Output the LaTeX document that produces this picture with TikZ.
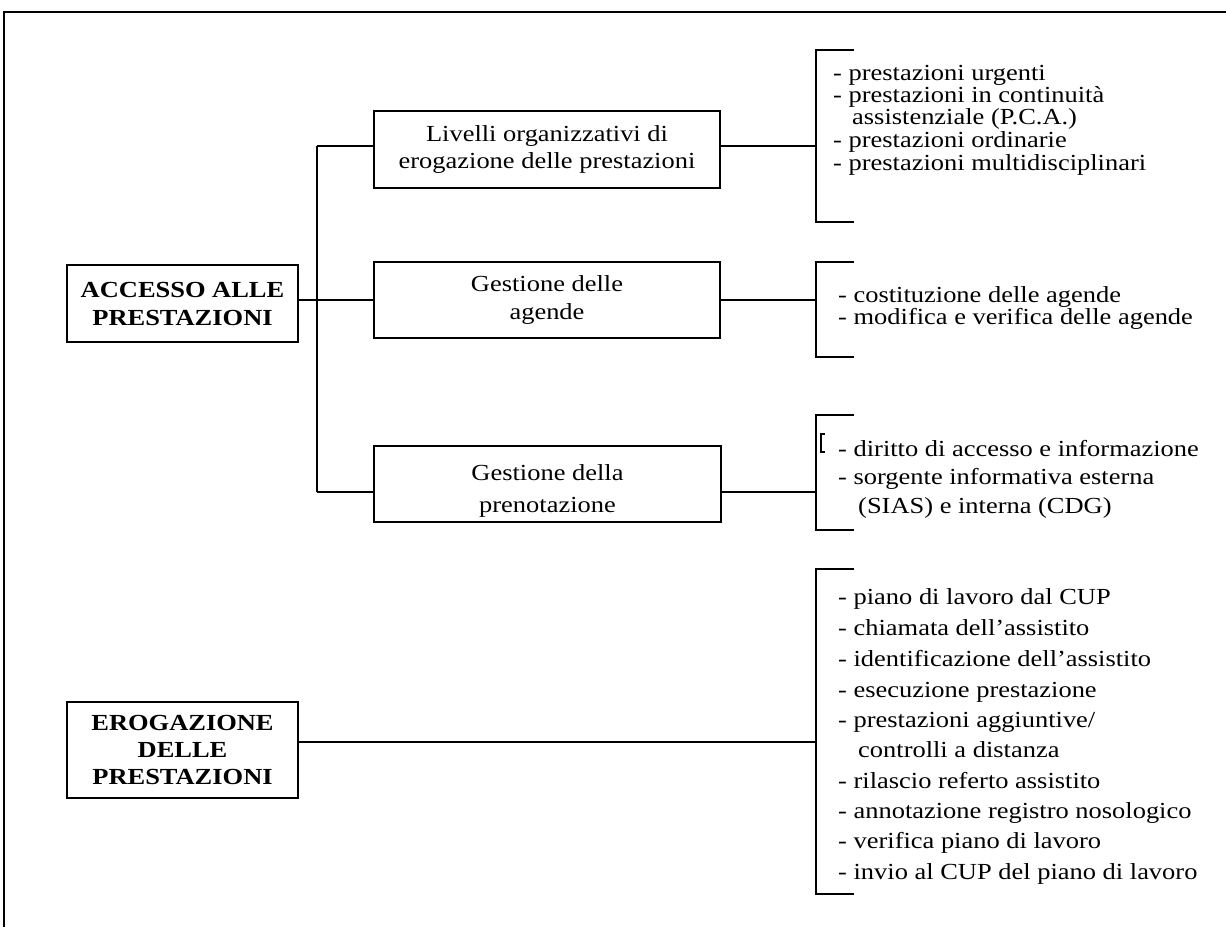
\documentclass[tikz,border=0pt]{standalone}
\usepackage{fontspec}
\setmainfont{Liberation Serif}
\usepackage{graphicx}
\newcommand{\sx}[1]{\scalebox{1.15}[1]{#1}}
\tikzset{
  ln/.style={line width=1.6pt},
  box/.style={draw, line width=1.6pt, inner sep=0pt, align=center, font=\fontsize{23}{28}\selectfont},
  head/.style={box, font=\fontsize{23}{28}\selectfont\bfseries},
  txt/.style={inner sep=0pt, align=center, font=\fontsize{23}{32}\selectfont},
  item/.style={anchor=base west, inner sep=0pt, font=\fontsize{23}{28}\selectfont},
}
\begin{document}
\begin{tikzpicture}[x=1pt,y=-1pt]
\useasboundingbox (0,0) rectangle (1226,927);
% frame
\coordinate (fBL) at (4,927);
\coordinate (fTL) at (4,12);
\coordinate (fTR) at (1226,12);
\draw[ln] (fBL) -- (fTL) -- (fTR);

% boxes
\node[head, minimum width=231pt, minimum height=77pt] (acc) at (182.5,303.5) {\sx{ACCESSO ALLE}\\\sx{PRESTAZIONI}};
\node[head, minimum width=231pt, minimum height=96pt, font=\fontsize{23}{27}\selectfont\bfseries] (ero) at (182.5,750) {\sx{EROGAZIONE}\\\sx{DELLE}\\\sx{PRESTAZIONI}};
\node[box, minimum width=346pt, minimum height=77pt, font=\fontsize{23}{27}\selectfont] (liv) at (547,149.5) {\sx{Livelli organizzativi di}\\\sx{erogazione delle prestazioni}};
\node[box, minimum width=346pt, minimum height=76pt] (age) at (547,300) {\sx{Gestione delle}\\\sx{agende}};
\node[box, minimum width=347pt, minimum height=76pt] (pre) at (547.5,484) {};
\node[txt] (preT) at (547.5,491) {\sx{Gestione della}\\\sx{prenotazione}};

% spine
\coordinate (sTop) at (317,146);
\coordinate (sMid) at (317,300);
\coordinate (sBot) at (317,492);
\draw[ln] (sTop) -- (sBot);
\draw[ln] (sTop) -- (liv.west |- sTop);
\draw[ln] (acc.east |- sMid) -- (age.west |- sMid);
\draw[ln] (sBot) -- (pre.west |- sBot);

% connectors to brackets
\coordinate (j1) at (816,146);
\coordinate (j2) at (816,300);
\coordinate (j3) at (816,492);
\coordinate (j4) at (816,742);
\draw[ln] (liv.east |- j1) -- (j1);
\draw[ln] (age.east |- j2) -- (j2);
\draw[ln] (pre.east |- j3) -- (j3);
\draw[ln] (ero.east |- j4) -- (j4);

% brackets
\coordinate (b1t) at (816,50);  \coordinate (b1b) at (816,222);
\coordinate (b2t) at (816,262); \coordinate (b2b) at (816,357);
\coordinate (b3t) at (816,415); \coordinate (b3b) at (816,530);
\coordinate (b4t) at (816,569); \coordinate (b4b) at (816,894);
\draw[ln] ([xshift=38pt]b1t) -- (b1t) -- (b1b) -- ([xshift=38pt]b1b);
\draw[ln] ([xshift=38pt]b2t) -- (b2t) -- (b2b) -- ([xshift=38pt]b2b);
\draw[ln] ([xshift=38pt]b3t) -- (b3t) -- (b3b) -- ([xshift=38pt]b3b);
\draw[ln] ([xshift=38pt]b4t) -- (b4t) -- (b4b) -- ([xshift=38pt]b4b);
% small stray bracket mark before "- diritto"
\coordinate (m1) at (825,434); \coordinate (m2) at (821,434);
\coordinate (m3) at (821,452); \coordinate (m4) at (825,452);
\draw[line width=1.2pt] (m1) -- (m2) -- (m3) -- (m4);

% list 1
\node[item] (l11) at (833,80)  {\sx{- prestazioni urgenti}};
\node[item] (l12) at (833,102) {\sx{- prestazioni in continuità}};
\node[item] (l13) at (852,124) {\sx{assistenziale (P.C.A.)}};
\node[item] (l14) at (833,147) {\sx{- prestazioni ordinarie}};
\node[item] (l15) at (833,170) {\sx{- prestazioni multidisciplinari}};
% list 2
\node[item] (l21) at (838,302) {\sx{- costituzione delle agende}};
\node[item] (l22) at (838,324) {\sx{- modifica e verifica delle agende}};
% list 3
\node[item] (l31) at (838,456) {\sx{- diritto di accesso e informazione}};
\node[item] (l32) at (838,484) {\sx{- sorgente informativa esterna}};
\node[item] (l33) at (858,513) {\sx{(SIAS) e interna (CDG)}};
% list 4
\node[item] (l41) at (838,604) {\sx{- piano di lavoro dal CUP}};
\node[item] (l42) at (838,635) {\sx{- chiamata dell’assistito}};
\node[item] (l43) at (838,666) {\sx{- identificazione dell’assistito}};
\node[item] (l44) at (838,697) {\sx{- esecuzione prestazione}};
\node[item] (l45) at (838,727) {\sx{- prestazioni aggiuntive/}};
\node[item] (l46) at (858,757) {\sx{controlli a distanza}};
\node[item] (l47) at (838,788) {\sx{- rilascio referto assistito}};
\node[item] (l48) at (838,818) {\sx{- annotazione registro nosologico}};
\node[item] (l49) at (838,848) {\sx{- verifica piano di lavoro}};
\node[item] (l410) at (838,879) {\sx{- invio al CUP del piano di lavoro}};
\end{tikzpicture}
\end{document}
